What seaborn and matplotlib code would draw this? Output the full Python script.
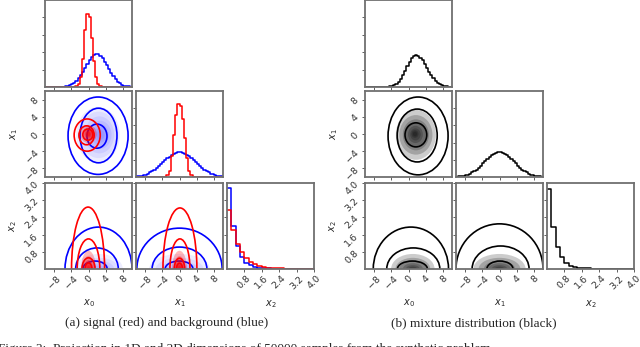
import numpy as np
import pandas as pd
import matplotlib.pyplot as plt
import seaborn as sns
from matplotlib.patches import Ellipse

# bins used for the 1D projections
edges_x = np.linspace(-10, 10, 41)
edges_x2 = np.linspace(0, 4, 21)

# 1D histogram heights
sig_x0 = [0, 0, 0, 0, 0, 0, 0, 0, 0, 0, 0, 0, 0, 0, 0.01, 0.04, 0.12, 0.32, 0.66, 0.84,
          0.80, 0.56, 0.30, 0.12, 0.04, 0.01, 0, 0, 0, 0, 0, 0, 0, 0, 0, 0, 0, 0, 0, 0]
bkg_x0 = [0, 0, 0, 0, 0.001, 0.001, 0.002, 0.003, 0.004, 0.008, 0.013, 0.021, 0.033, 0.049, 0.072, 0.10,
          0.137, 0.177, 0.22, 0.266, 0.31, 0.343, 0.368, 0.38, 0.376, 0.36, 0.33, 0.293, 0.249, 0.203,
          0.16, 0.121, 0.088, 0.062, 0.042, 0.027, 0.017, 0.010, 0.006, 0.003]
sig_x1 = [0, 0, 0, 0, 0, 0, 0, 0, 0, 0, 0, 0, 0, 0, 0.02, 0.07, 0.24, 0.49, 0.72, 0.85,
          0.83, 0.68, 0.45, 0.22, 0.07, 0.02, 0, 0, 0, 0, 0, 0, 0, 0, 0, 0, 0, 0, 0, 0]
bkg_x1 = [0.007, 0.010, 0.015, 0.021, 0.029, 0.040, 0.053, 0.068, 0.086, 0.106, 0.128, 0.150, 0.173, 0.196,
          0.218, 0.238, 0.256, 0.270, 0.280, 0.286, 0.286, 0.281, 0.271, 0.257, 0.239, 0.219, 0.197, 0.174,
          0.151, 0.129, 0.107, 0.087, 0.069, 0.054, 0.040, 0.030, 0.021, 0.015, 0.010, 0.007]
sig_x2 = [0.69, 0.45, 0.29, 0.20, 0.13, 0.08, 0.055, 0.036, 0.024, 0.016,
          0.011, 0.008, 0.006, 0.004, 0.003, 0.002, 0.001, 0.001, 0, 0]
bkg_x2 = [0.94, 0.50, 0.27, 0.14, 0.07, 0.045, 0.028, 0.017, 0.011, 0.007,
          0.005, 0.003, 0.002, 0.001, 0.001, 0, 0, 0, 0, 0]
mix_x0 = [0, 0, 0, 0, 0, 0, 0, 0, 0, 0.001, 0.003, 0.007, 0.013, 0.023, 0.039, 0.063, 0.096, 0.138,
          0.187, 0.24, 0.292, 0.334, 0.362, 0.37, 0.361, 0.339, 0.306, 0.264, 0.22, 0.176, 0.135,
          0.10, 0.07, 0.048, 0.032, 0.02, 0.012, 0.007, 0.004, 0.002]
mix_x1 = [0.005, 0.007, 0.010, 0.015, 0.021, 0.029, 0.040, 0.053, 0.069, 0.087, 0.109, 0.132, 0.157, 0.183,
          0.209, 0.233, 0.254, 0.271, 0.283, 0.293, 0.293, 0.283, 0.271, 0.254, 0.233, 0.209, 0.183, 0.157,
          0.132, 0.109, 0.087, 0.069, 0.053, 0.040, 0.029, 0.021, 0.015, 0.010, 0.007, 0.005]
mix_x2 = [0.93, 0.49, 0.26, 0.14, 0.07, 0.04, 0.025, 0.015, 0.010, 0.006,
          0.004, 0.003, 0.002, 0.001, 0.001, 0, 0, 0, 0, 0]

# 2D contour extents: (centre x, centre y, half width, half height)
sig_x0x1 = [(-0.3, -0.25, 3.0, 3.75), (-0.45, -0.3, 1.75, 2.2), (-0.15, -0.15, 1.15, 1.3)]
bkg_x0x1 = [(2.2, -0.4, 6.9, 9.0), (2.3, -0.35, 4.25, 6.35), (1.95, -0.5, 2.3, 2.8)]
sig_x0x2 = [(-0.1, 0, 3.8, 2.88), (0.0, 0, 2.6, 1.40), (0.0, 0, 1.5, 0.52), (0.0, 0, 0.8, 0.28)]
bkg_x0x2 = [(2.3, 0, 7.7, 1.95), (1.95, 0, 4.9, 0.98), (1.5, 0, 2.8, 0.37)]
sig_x1x2 = [(0.1, 0, 3.9, 2.84), (0.1, 0, 2.3, 1.40), (0.0, 0, 1.2, 0.50), (0.0, 0, 0.7, 0.27)]
bkg_x1x2 = [(0.0, 0, 9.8, 1.9), (0.0, 0, 6.3, 1.02), (-0.1, 0, 3.2, 0.37)]
mix_x0x1 = [(2.2, -0.45, 6.9, 9.05), (2.0, -0.35, 4.6, 6.15), (1.7, -0.2, 2.5, 2.8)]
mix_x0x2 = [(0.55, 0, 8.65, 1.95), (1.1, 0, 6.1, 0.98), (0.9, 0, 3.45, 0.37)]
mix_x1x2 = [(0.0, 0, 10.0, 2.1), (0.25, 0, 6.55, 1.07), (0.1, 0, 3.0, 0.37)]

# density shading, nested regions from faint to dense
sig_shade_x0x1 = [(0, 0, 1.9, 2.1), (0, 0, 1.4, 1.5), (0, 0, 1.0, 1.1), (0, 0, 0.75, 0.8),
                  (0, 0, 0.55, 0.6), (0, 0, 0.4, 0.45)]
bkg_shade_x0x1 = [(2.2, -0.2, 5.0, 6.5), (2.3, -0.2, 4.2, 5.4), (2.5, -0.2, 3.4, 4.3), (2.6, -0.2, 2.7, 3.3),
                  (2.7, -0.2, 2.0, 2.5), (2.8, -0.2, 1.4, 1.8), (2.8, -0.2, 0.9, 1.1)]
sig_shade_x2 = [(0, 0, 1.7, 0.85), (0, 0, 1.3, 0.6), (0, 0, 0.95, 0.42), (0, 0, 0.7, 0.3),
                (0, 0, 0.5, 0.2), (0, 0, 0.35, 0.13)]
bkg_shade_x0x2 = [(2.4, 0, 5.5, 0.7), (2.5, 0, 4.4, 0.52), (2.5, 0, 3.4, 0.38),
                  (2.5, 0, 2.5, 0.26), (2.5, 0, 1.7, 0.16)]
bkg_shade_x1x2 = [(0, 0, 7.0, 0.7), (0, 0, 5.5, 0.52), (0, 0, 4.2, 0.38), (0, 0, 3.0, 0.26), (0, 0, 2.0, 0.16)]
mix_shade_x0x1 = [(1.7, -0.2, 4.6, 5.8), (1.7, -0.2, 3.8, 4.6), (1.7, -0.2, 3.0, 3.6), (1.7, -0.1, 2.3, 2.7),
                  (1.6, -0.1, 1.7, 2.0), (1.6, -0.1, 1.2, 1.4), (1.5, 0, 0.8, 0.9), (1.5, 0, 0.5, 0.55)]
mix_shade_x0x2 = [(1.0, 0, 5.0, 0.7), (1.0, 0, 4.0, 0.52), (1.0, 0, 3.1, 0.38), (1.0, 0, 2.3, 0.27),
                  (1.0, 0, 1.6, 0.18), (1.0, 0, 1.0, 0.11)]
mix_shade_x1x2 = [(0, 0, 6.0, 0.7), (0, 0, 4.8, 0.52), (0, 0, 3.6, 0.38), (0, 0, 2.6, 0.27),
                  (0, 0, 1.8, 0.18), (0, 0, 1.1, 0.11)]

xticks = [-8, -4, 0, 4, 8]
x2ticks = [0.8, 1.6, 2.4, 3.2, 4.0]
hist_ticks = [0.2, 0.4, 0.6, 0.8]

W, H = 640, 347
col_px = [(45, 132), (136, 223), (227, 314)]
row_px = [(0, 87), (91, 177), (183, 269)]
SPINE = '#707070'

sns.set_style('ticks')
plt.rcParams['font.family'] = ['DejaVu Sans']


def make_ax(fig, col, row, dx):
    x0, x1 = col_px[col]
    y0, y1 = row_px[row]
    ax = fig.add_axes([(x0 + dx) / W, 1 - y1 / H, (x1 - x0) / W, (y1 - y0) / H])
    for s in ax.spines.values():
        s.set_color(SPINE)
        s.set_linewidth(1.3)
    ax.tick_params(length=2.5, width=0.6, color='#444444', labelsize=6.8, pad=1, labelcolor='#333333')
    return ax


def draw_hist(ax, centers, vals, edges, color):
    df = pd.DataFrame({'x': centers, 'w': vals})
    sns.histplot(data=df, x='x', weights='w', bins=list(edges), element='step', fill=False,
                 color=color, linewidth=1.1, ax=ax)
    ax.set_ylim(0, 1.0)
    ax.set_yticks(hist_ticks)
    ax.set_yticklabels([])
    ax.set_xlabel('')
    ax.set_ylabel('')


def draw_2d(ax, contours, shade, color, alpha):
    for cx, cy, hw, hh in shade:
        ax.add_patch(Ellipse((cx, cy), 2 * hw, 2 * hh, facecolor=color, edgecolor='none', alpha=alpha))
    for cx, cy, hw, hh in contours:
        ax.add_patch(Ellipse((cx, cy), 2 * hw, 2 * hh, fill=False, edgecolor=color, linewidth=1.2))


def corner_panel(fig, dx, hist_sets, pair_sets):
    cx = (edges_x[:-1] + edges_x[1:]) / 2
    c2 = (edges_x2[:-1] + edges_x2[1:]) / 2
    centers = [cx, cx, c2]
    edges = [edges_x, edges_x, edges_x2]
    lims = [(-10, 10), (-10, 10), (0, 4)]
    ticks = [xticks, xticks, x2ticks]
    names = ['$x_0$', '$x_1$', '$x_2$']
    for i in range(3):
        ax = make_ax(fig, i, i, dx)
        for vals, color in hist_sets[i]:
            draw_hist(ax, centers[i], vals, edges[i], color)
        ax.set_xlim(*lims[i])
        ax.set_xticks(ticks[i])
        if i < 2:
            ax.set_xticklabels([])
        else:
            ax.set_xticklabels(['0.8', '1.6', '2.4', '3.2', '4.0'], rotation=45)
            ax.set_xlabel(names[i], fontsize=7, labelpad=5)
        for j in range(i):
            ax2 = make_ax(fig, j, i, dx)
            for contours, shade, color, alpha in pair_sets[(j, i)]:
                draw_2d(ax2, contours, shade, color, alpha)
            ax2.set_xlim(*lims[j])
            ax2.set_ylim(*lims[i])
            ax2.set_xticks(ticks[j])
            ax2.set_yticks(ticks[i])
            if j == 0:
                ax2.set_yticklabels([f'{t}'.replace('-', '\u2212') if i < 2 else f'{t:.1f}'
                                     for t in ticks[i]], rotation=45)
                ax2.set_ylabel(names[i], fontsize=7, labelpad=3)
            else:
                ax2.set_yticklabels([])
            if i == 2:
                ax2.set_xticklabels([f'{t}'.replace('-', '\u2212') for t in ticks[j]], rotation=45)
                ax2.set_xlabel(names[j], fontsize=7, labelpad=5)
            else:
                ax2.set_xticklabels([])


fig = plt.figure(figsize=(6.4, 3.47), dpi=100)

corner_panel(
    fig, 0,
    [[(bkg_x0, 'blue'), (sig_x0, 'red')],
     [(bkg_x1, 'blue'), (sig_x1, 'red')],
     [(bkg_x2, 'blue'), (sig_x2, 'red')]],
    {(0, 1): [(bkg_x0x1, bkg_shade_x0x1, 'blue', 0.07), (sig_x0x1, sig_shade_x0x1, 'red', 0.28)],
     (0, 2): [(bkg_x0x2, bkg_shade_x0x2, 'blue', 0.07), (sig_x0x2, sig_shade_x2, 'red', 0.28)],
     (1, 2): [(bkg_x1x2, bkg_shade_x1x2, 'blue', 0.07), (sig_x1x2, sig_shade_x2, 'red', 0.28)]},
)
corner_panel(
    fig, 320,
    [[(mix_x0, 'black')], [(mix_x1, 'black')], [(mix_x2, 'black')]],
    {(0, 1): [(mix_x0x1, mix_shade_x0x1, 'black', 0.2)],
     (0, 2): [(mix_x0x2, mix_shade_x0x2, 'black', 0.2)],
     (1, 2): [(mix_x1x2, mix_shade_x1x2, 'black', 0.2)]},
)

fig.text(167 / W, 1 - 323 / H, '(a) signal (red) and background (blue)', family='Liberation Serif',
         fontsize=9.5, ha='center', va='center')
fig.text(474 / W, 1 - 323 / H, '(b) mixture distribution (black)', family='Liberation Serif',
         fontsize=9.5, ha='center', va='center')
fig.text(-2 / W, 1 - 343 / H,
         'Figure 2:  Projection in 1D and 2D dimensions of 50000 samples from the synthetic problem',
         family='Liberation Serif', fontsize=9.5, ha='left', va='top')

plt.savefig('out.png', dpi=100)
plt.close()
